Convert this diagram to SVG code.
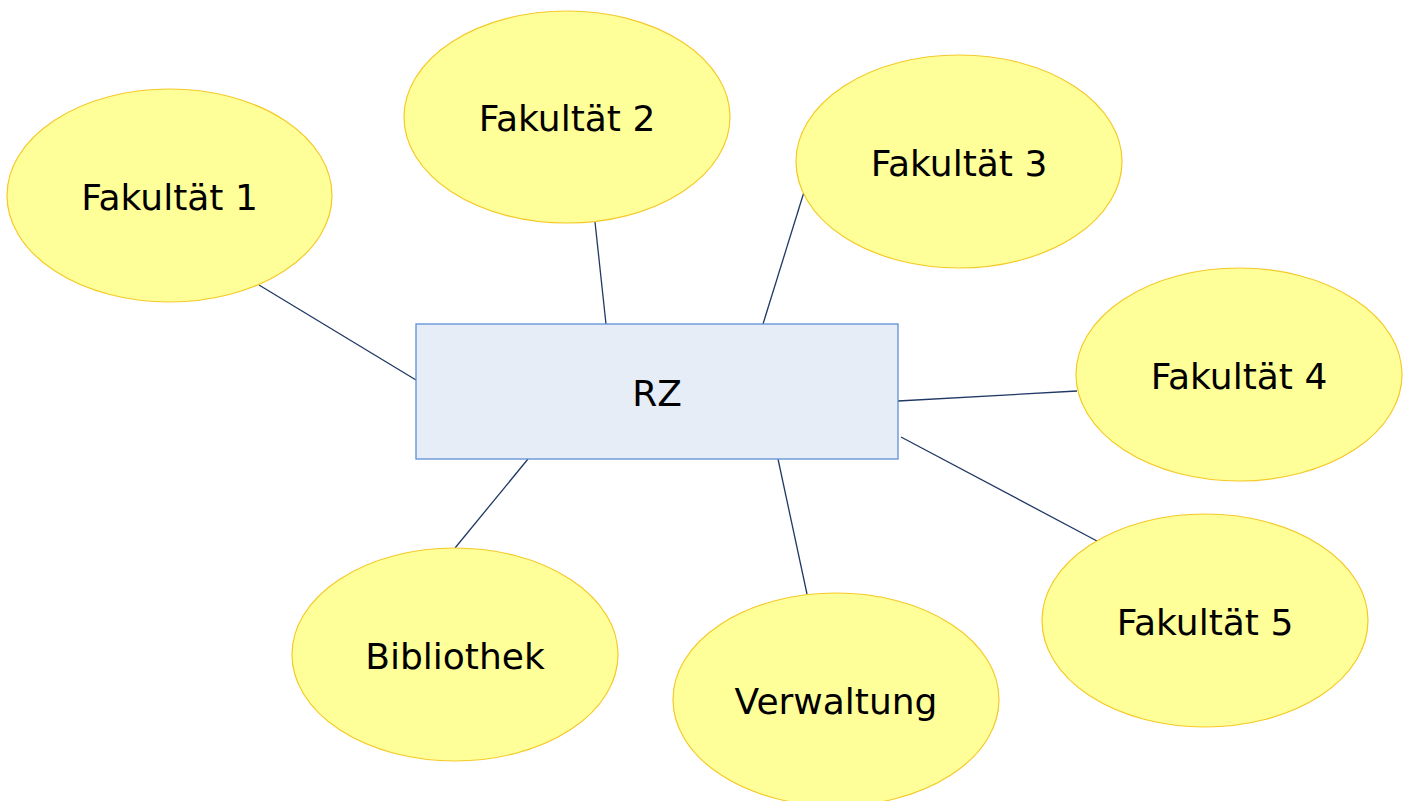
<svg xmlns="http://www.w3.org/2000/svg" width="1412" height="801" viewBox="0 0 1412 801">
<style>
.n ellipse{fill:#ffff99;stroke:#f5c928;stroke-width:1.2}
.n rect{fill:#e6edf7;stroke:#5f8fd6;stroke-width:1.3}
.n text{font-family:"DejaVu Sans",Verdana,sans-serif;font-size:36px;fill:#000;text-anchor:middle}
#connectors line{stroke:#1f3864;stroke-width:1.3}
</style>
<rect width="1412" height="801" fill="#fff"/>
<g id="connectors">
<line x1="259" y1="285" x2="416" y2="380"/>
<line x1="595" y1="222" x2="606" y2="324"/>
<line x1="804" y1="192" x2="763" y2="324"/>
<line x1="898" y1="401" x2="1077" y2="391"/>
<line x1="901" y1="437" x2="1097" y2="541"/>
<line x1="528" y1="459" x2="455" y2="548"/>
<line x1="778" y1="459" x2="807" y2="594"/>
</g>
<g id="rz" class="n"><rect x="416" y="324" width="482" height="135"/><text x="657" y="406">RZ</text></g>
<g id="f1" class="n"><ellipse cx="169.5" cy="195.5" rx="162.5" ry="106.5"/><text x="169.5" y="210">Fakultät 1</text></g>
<g id="f2" class="n"><ellipse cx="567" cy="117" rx="163" ry="106"/><text x="567" y="131">Fakultät 2</text></g>
<g id="f3" class="n"><ellipse cx="959" cy="161.5" rx="163" ry="106.5"/><text x="959" y="176">Fakultät 3</text></g>
<g id="f4" class="n"><ellipse cx="1239" cy="374.5" rx="163" ry="106.5"/><text x="1239" y="389">Fakultät 4</text></g>
<g id="f5" class="n"><ellipse cx="1205" cy="620.5" rx="163" ry="106.5"/><text x="1205" y="635">Fakultät 5</text></g>
<g id="bib" class="n"><ellipse cx="455" cy="654.5" rx="163" ry="106.5"/><text x="455" y="669">Bibliothek</text></g>
<g id="verw" class="n"><ellipse cx="836" cy="699.5" rx="163" ry="106.5"/><text x="836" y="714">Verwaltung</text></g>
</svg>
